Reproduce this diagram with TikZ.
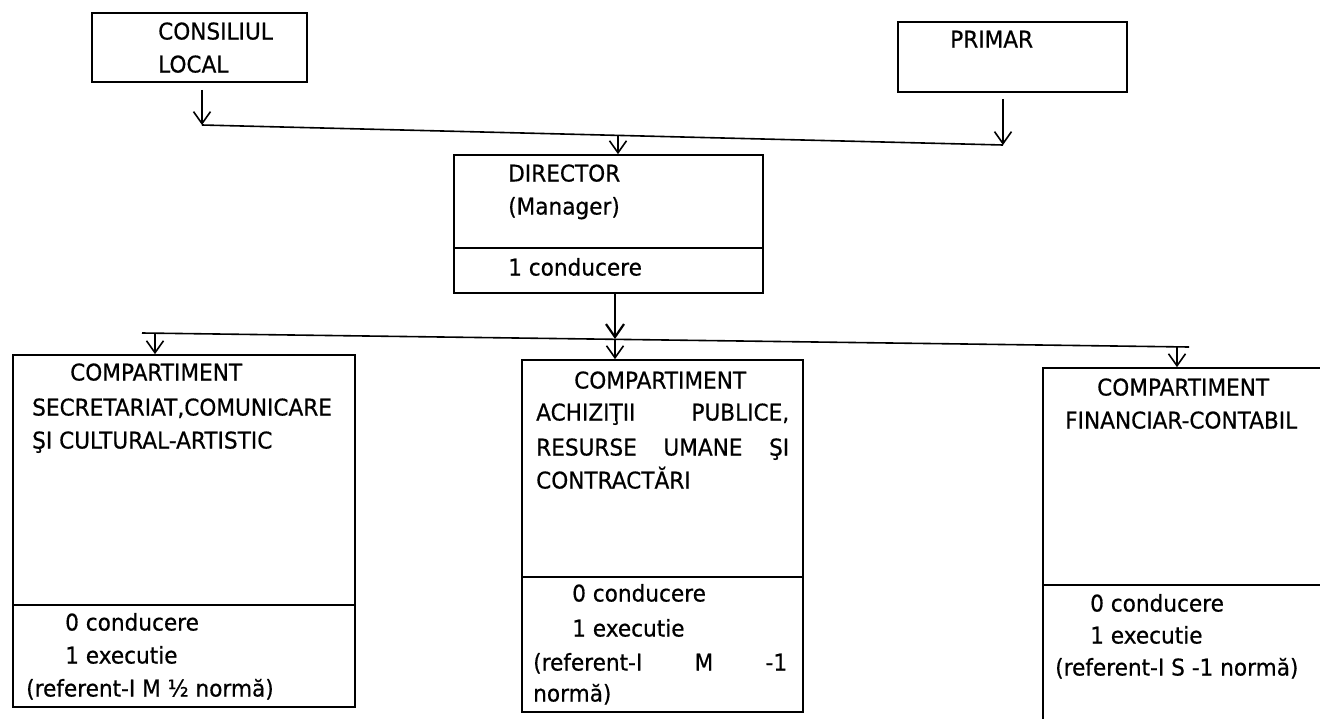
\documentclass[tikz,border=0pt]{standalone}
\usepackage{fontspec}
\setmainfont{DejaVu Sans}[FakeStretch=0.94,FakeBold=0.6]
\usetikzlibrary{arrows.meta,fit,calc}
\begin{document}
\begin{tikzpicture}[x=1pt,y=-1pt,
  font=\fontsize{23}{33}\selectfont,
  box/.style={draw,line width=1.7pt,inner sep=0pt,rectangle},
  lbl/.style={anchor=base west,inner sep=0pt},
  link/.style={line width=1.6pt},
  arr/.style={line width=1.6pt,-{Straight Barb[length=12pt,width=17pt,line width=1.6pt]}},
  arrbold/.style={line width=2.8pt,-{Straight Barb[length=13pt,width=18pt,line width=2.2pt]}}]
\useasboundingbox (0,0) rectangle (1320,718);
\clip (0,0) rectangle (1320,718);
% boxes
\node[box,fit={(92,13) (307,82)}] (cl) {};
\node[box,fit={(898,22) (1127,92)}] (pr) {};
\node[box,fit={(454,155) (763,293)}] (dir) {};
\node[box,fit={(13,355) (355,707)}] (c1) {};
\node[box,fit={(522,360) (803,712)}] (c2) {};
\node[box,fit={(1043,368) (1345,745)}] (c3) {};
% dividers
\draw[link] (454,248) -- (763,248);
\draw[link] (13,605) -- (355,605);
\draw[link] (522,577) -- (803,577);
\draw[link] (1043,585) -- (1345,585);
% texts
\node[lbl] (t1) at (158,39.5) {CONSILIUL};
\node[lbl] (t2) at (158,72.5) {LOCAL};
\node[lbl] (t3) at (950,47.5) {PRIMAR};
\node[lbl] (t4) at (508,181.5) {DIRECTOR};
\node[lbl] (t5) at (508,214.5) {(Manager)};
\node[lbl] (t6) at (508,275.5) {1 conducere};
\node[lbl] (a1) at (70,380.5) {COMPARTIMENT};
\node[lbl] (a2) at (32,415.5) {SECRETARIAT,COMUNICARE};
\node[lbl] (a3) at (32,448.5) {ŞI CULTURAL-ARTISTIC};
\node[lbl] (a4) at (65,630.5) {0 conducere};
\node[lbl] (a5) at (65,663.5) {1 executie};
\node[lbl] (a6) at (26,696.5) {(referent-I M ½ normă)};
\node[lbl] (b1) at (574,388.5) {COMPARTIMENT};
\node[lbl] (b2) at (536,420.5) {\makebox[253pt][l]{ACHIZIŢII\hfill PUBLICE,}};
\node[lbl] (b3) at (536,455.5) {\makebox[253pt][l]{RESURSE\hfill UMANE\hfill ŞI}};
\node[lbl] (b4) at (536,488.5) {CONTRACTĂRI};
\node[lbl] (b5) at (572,601.5) {0 conducere};
\node[lbl] (b6) at (572,636.5) {1 executie};
\node[lbl] (b7) at (533,670.5) {\makebox[254pt][l]{(referent-I\hfill M\hfill -1}};
\node[lbl] (b8) at (533,701.5) {normă)};
\node[lbl] (d1) at (1097,395.5) {COMPARTIMENT};
\node[lbl] (d2) at (1065,428.5) {FINANCIAR-CONTABIL};
\node[lbl] (d3) at (1090,611.5) {0 conducere};
\node[lbl] (d4) at (1090,643.5) {1 executie};
\node[lbl] (d5) at (1055,675.5) {(referent-I S -1 normă)};
% connectors top
\coordinate (j1) at (202,125);
\coordinate (j2) at (1003,145);
\coordinate (j3) at (618,135);
\draw[arr] ($(cl.south -| j1)+(0,7)$) -- (j1);
\draw[link] (j1) -- (j2);
\draw[arr] ($(pr.south -| j2)+(0,6)$) -- (j2);
\draw[arr] (j3) -- (j3 |- dir.north);
% connectors bottom
\coordinate (k1) at (142,333);
\coordinate (k2) at (1189,347);
\coordinate (k3) at (155,333);
\coordinate (k4) at (615,339);
\coordinate (k5) at (1177,347);
\draw[link] (k1) -- (k2);
\draw[arr] (k3) -- (k3 |- c1.north);
\draw[arrbold] (dir.south -| k4) -- (k4);
\draw[arr] (k4) -- (k4 |- c2.north);
\draw[arr] (k5) -- (k5 |- c3.north);
\end{tikzpicture}
\end{document}
